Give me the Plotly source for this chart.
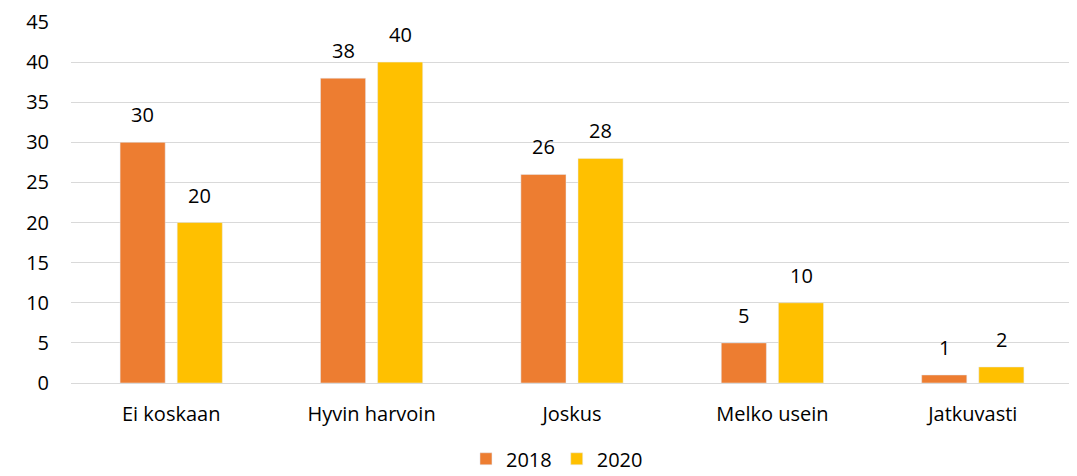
import plotly.graph_objects as go

categories = ["Ei koskaan", "Hyvin harvoin", "Joskus", "Melko usein", "Jatkuvasti"]
values_2018 = [30, 38, 26, 5, 1]
values_2020 = [20, 40, 28, 10, 2]

FONT = "'Open Sans', Lato, sans-serif"
BAR_SHIFT = 28.6  # px from category centre to each bar centre

fig = go.Figure()
fig.add_trace(go.Bar(x=categories, y=values_2018, name="2018", marker_color="#ED7D31"))
fig.add_trace(go.Bar(x=categories, y=values_2020, name="2020", marker_color="#FFC000"))

# value labels, lifted well above the bars like the original
for vals, shift in ((values_2018, -BAR_SHIFT), (values_2020, BAR_SHIFT)):
    for cat, v in zip(categories, vals):
        fig.add_annotation(x=cat, y=v, text=str(v), showarrow=False, xshift=shift,
                           yshift=12, yanchor="bottom", font=dict(size=20, color="#000000"))

fig.update_layout(
    barmode="group",
    bargap=0.43,
    bargroupgap=0.21,
    width=1077,
    height=476,
    plot_bgcolor="white",
    paper_bgcolor="white",
    font=dict(family=FONT, size=20, color="#000000"),
    margin=dict(l=63, r=12, t=14, b=101),
    legend=dict(orientation="h", x=0.485, xanchor="center", yref="container", y=0.053,
                yanchor="middle", font=dict(size=20), itemwidth=30, tracegroupgap=0),
    showlegend=True,
)
fig.update_yaxes(range=[0, 45], dtick=5, showgrid=True, gridcolor="#D9D9D9", gridwidth=1.3,
                 zeroline=False, showline=False, ticks="", ticklabelstandoff=21,
                 automargin=False)
fig.update_xaxes(showline=True, linecolor="#D9D9D9", linewidth=1.3, ticks="",
                 ticklabelstandoff=13, automargin=False)

fig.write_html("out.html")
